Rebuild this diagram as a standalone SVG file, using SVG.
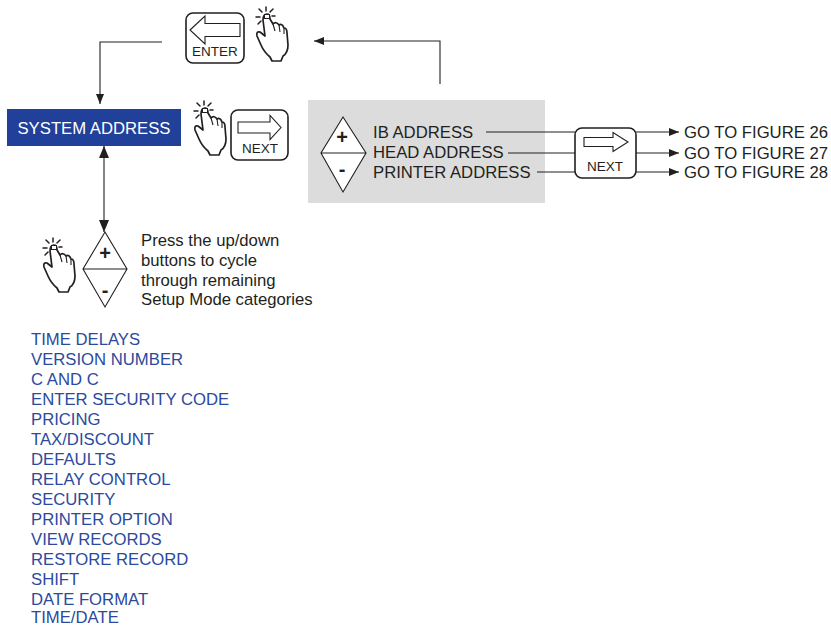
<svg xmlns="http://www.w3.org/2000/svg" width="831" height="627" viewBox="0 0 831 627">
<defs>
<style>
.t{font-family:"Liberation Sans",Arial,sans-serif;font-size:16.7px;fill:#231f20}
.b{font-family:"Liberation Sans",Arial,sans-serif;font-size:16.7px;fill:#2b4a9e}
.k{font-family:"Liberation Sans",Arial,sans-serif;font-size:13.5px;fill:#231f20;text-anchor:middle}
.ln{stroke:#231f20;stroke-width:1.1;fill:none}
.btn{fill:#fff;stroke:#231f20;stroke-width:1.6}
.ar{fill:#fff;stroke:#231f20;stroke-width:1.1;stroke-linejoin:miter}
.hd{fill:#fff;stroke:#231f20;stroke-width:1.7;stroke-linejoin:round}
.ray{stroke:#231f20;stroke-width:1.5;stroke-linecap:round}
.dia{fill:#fff;stroke:#231f20;stroke-width:1.1}
.pm{font-family:"Liberation Sans",Arial,sans-serif;font-size:20px;font-weight:bold;fill:#231f20;text-anchor:middle}
</style>
<marker id="ah" viewBox="0 0 10 8" refX="10" refY="4" markerWidth="10" markerHeight="8" markerUnits="userSpaceOnUse" orient="auto">
<path d="M0,0 L10,4 L0,8 Z" fill="#231f20"/>
</marker>
<marker id="ahb" viewBox="0 0 12 10" refX="12" refY="5" markerWidth="12" markerHeight="10" markerUnits="userSpaceOnUse" orient="auto-start-reverse">
<path d="M0,0 L12,5 L0,10 Z" fill="#231f20"/>
</marker>
<g id="hand">
<line class="ray" x1="18" y1="4" x2="18" y2="8"/>
<line class="ray" x1="11" y1="6" x2="14" y2="9"/>
<line class="ray" x1="25" y1="6" x2="22" y2="9"/>
<line class="ray" x1="8" y1="14" x2="12" y2="14"/>
<line class="ray" x1="24" y1="13" x2="27" y2="13"/>
<line class="ray" x1="10" y1="21" x2="13" y2="18"/>
<path class="hd" d="M15,17 Q15,11 19,11 Q22,11 22,16 L25,21 Q28,18 31,22 Q34,20 36,25 Q39,25 39,30 L40,42 Q40,50 35,53 L33,58 L24,58 L22,54 Q16,49 13,42 L9,33 Q8,28 12,29 L17,33 Z"/>
<rect x="16.5" y="11.5" width="5" height="4" fill="#fff" stroke="#231f20" stroke-width="1"/>
<path class="ln" d="M25,21 L27,28 M31,22 L32,29 M36,25 L36,31"/>
</g>
</defs>
<rect width="831" height="627" fill="#fff"/>

<g id="enter-button">
<rect class="btn" x="186" y="13" width="58" height="50" rx="7"/>
<path class="ar" d="M190,30 L205,16 L205,23.5 L240,23.5 L240,36.5 L205,36.5 L205,44 Z"/>
<text class="k" x="215" y="56">ENTER</text>
</g>
<use id="hand-enter" href="#hand" transform="translate(248,3)"/>

<g id="system-address">
<rect x="7" y="109" width="174" height="37" fill="#21409a"/>
<text class="t" x="94" y="134" text-anchor="middle" style="fill:#fff">SYSTEM ADDRESS</text>
</g>

<use id="hand-next" href="#hand" transform="translate(186,97)"/>
<g id="next-button-1">
<rect class="btn" x="231" y="110" width="57" height="50" rx="7"/>
<path class="ar" d="M238,122 L270,122 L270,115.5 L281,127.5 L270,139.5 L270,133 L238,133 Z"/>
<text class="k" x="260" y="153">NEXT</text>
</g>

<g id="address-panel">
<rect x="308" y="100" width="237" height="103" fill="#dcdcdd"/>
<path class="dia" d="M343,117 L366,153 L343,192 L321,153 Z M321,153 L366,153"/>
<text class="pm" x="342" y="144">+</text>
<text class="pm" x="342" y="176">-</text>
<text class="t" x="373" y="138">IB ADDRESS</text>
<text class="t" x="373" y="158">HEAD ADDRESS</text>
<text class="t" x="373" y="178">PRINTER ADDRESS</text>
</g>

<g id="next-button-2">
<rect class="btn" x="575" y="128" width="61" height="50" rx="7"/>
<path class="ar" d="M584,137.5 L613,137.5 L613,132.5 L628,142 L613,151.5 L613,146.5 L584,146.5 Z"/>
<text class="k" x="605" y="171">NEXT</text>
</g>

<g id="figure-links">
<text class="t" x="684" y="138">GO TO FIGURE 26</text>
<text class="t" x="684" y="159">GO TO FIGURE 27</text>
<text class="t" x="684" y="178">GO TO FIGURE 28</text>
</g>

<use id="hand-updown" href="#hand" transform="translate(35,234)"/>
<g id="updown-buttons">
<path class="dia" d="M105,232 L127,269 L105,307 L83,269 Z M83,269 L127,269"/>
<text class="pm" x="105" y="260">+</text>
<text class="pm" x="105" y="297">-</text>
</g>
<g id="updown-note">
<text class="t" x="141" y="246">Press the up/down</text>
<text class="t" x="141" y="266">buttons to cycle</text>
<text class="t" x="141" y="286">through remaining</text>
<text class="t" x="141" y="305">Setup Mode categories</text>
</g>

<g id="categories">
<text class="b" x="31" y="344.5">TIME DELAYS</text>
<text class="b" x="31" y="364.5">VERSION NUMBER</text>
<text class="b" x="31" y="384.5">C AND C</text>
<text class="b" x="31" y="404.5">ENTER SECURITY CODE</text>
<text class="b" x="31" y="424.5">PRICING</text>
<text class="b" x="31" y="444.5">TAX/DISCOUNT</text>
<text class="b" x="31" y="464.5">DEFAULTS</text>
<text class="b" x="31" y="484.5">RELAY CONTROL</text>
<text class="b" x="31" y="504.5">SECURITY</text>
<text class="b" x="31" y="524.5">PRINTER OPTION</text>
<text class="b" x="31" y="544.5">VIEW RECORDS</text>
<text class="b" x="31" y="564.5">RESTORE RECORD</text>
<text class="b" x="31" y="584.5">SHIFT</text>
<text class="b" x="31" y="604.5">DATE FORMAT</text>
<text class="b" x="31" y="623">TIME/DATE</text>
</g>

<g id="connectors">
<path class="ln" d="M162,42 L100,42 L100,104" marker-end="url(#ah)"/>
<path class="ln" d="M440,84 L440,41 L314,41" marker-end="url(#ah)"/>
<line class="ln" x1="104" y1="146" x2="104" y2="232" marker-start="url(#ahb)" marker-end="url(#ahb)"/>
<line class="ln" x1="486" y1="132" x2="575" y2="132"/>
<line class="ln" x1="508" y1="153" x2="575" y2="153"/>
<line class="ln" x1="537" y1="172" x2="575" y2="172"/>
<line class="ln" x1="636" y1="132" x2="679" y2="132" marker-end="url(#ah)"/>
<line class="ln" x1="636" y1="153" x2="679" y2="153" marker-end="url(#ah)"/>
<line class="ln" x1="636" y1="172" x2="679" y2="172" marker-end="url(#ah)"/>
</g>
</svg>
